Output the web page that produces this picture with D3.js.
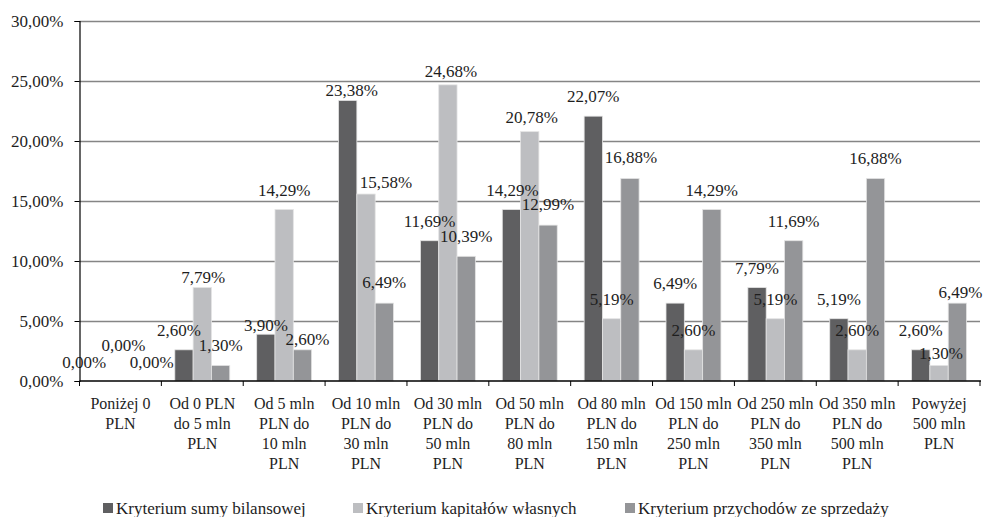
<!DOCTYPE html>
<html>
<head>
<meta charset="utf-8">
<script src="https://cdn.jsdelivr.net/npm/d3@7"></script>
<style>
  html, body { margin: 0; padding: 0; background: #fff; }
  svg { display: block; }
</style>
</head>
<body>
<svg id="chart" width="985" height="517"></svg>
<script>
// Size brackets (category labels, split into lines)
const categories = [
  ["Poniżej 0", "PLN"],
  ["Od 0 PLN", "do 5 mln", "PLN"],
  ["Od 5 mln", "PLN do", "10 mln", "PLN"],
  ["Od 10 mln", "PLN do", "30 mln", "PLN"],
  ["Od 30 mln", "PLN do", "50 mln", "PLN"],
  ["Od 50 mln", "PLN do", "80 mln", "PLN"],
  ["Od 80 mln", "PLN do", "150 mln", "PLN"],
  ["Od 150 mln", "PLN do", "250 mln", "PLN"],
  ["Od 250 mln", "PLN do", "350 mln", "PLN"],
  ["Od 350 mln", "PLN do", "500 mln", "PLN"],
  ["Powyżej", "500 mln", "PLN"]
];

const seriesNames = [
  "Kryterium sumy bilansowej",
  "Kryterium kapitałów własnych",
  "Kryterium przychodów ze sprzedaży"
];

// Share of companies (%) per bracket
const sumaBilansowa   = [0.00, 2.60, 3.90, 23.38, 11.69, 14.29, 22.07, 6.49, 7.79, 5.19, 2.60];
const kapitalyWlasne  = [0.00, 7.79, 14.29, 15.58, 24.68, 20.78, 5.19, 2.60, 5.19, 2.60, 1.30];
const przychody       = [0.00, 1.30, 2.60, 6.49, 10.39, 12.99, 16.88, 14.29, 11.69, 16.88, 6.49];

const yTicks = [0, 5, 10, 15, 20, 25, 30];

const seriesColors = ["#5f5f61", "#bdbec1", "#949598"];

// Hand-placed nudges [dx, dy] for value labels that would collide
const labelNudge = [
  [[-18, 1], [3, -16], [13, 1]],
  [[-5, 0], [1, 9], [0, 0]],
  [[0, 11], [0, 0], [5, 9]],
  [[4, 10], [20, 8], [0, -1]],
  [[0, 0], [3, 6], [0, 0]],
  [[1, 0], [2, 5], [0, -1]],
  [[0, 0], [0, 0], [1, -1]],
  [[0, 0], [0, 0], [0, 0]],
  [[0, 0], [0, 0], [0, 0]],
  [[0, 0], [0, 0], [0, 0]],
  [[0, 0], [2, 8], [3, 9]]
];

const FONT = "'Liberation Serif', 'Times New Roman', 'Noto Serif', 'DejaVu Serif', FreeSerif, serif";
const TEXT_COLOR = "#1e1e1e";

const seriesValues = [sumaBilansowa, kapitalyWlasne, przychody];
const plLocale = d3.formatLocale({ decimal: ",", thousands: " ", grouping: [3], currency: ["", " zł"] });
const fmt = v => plLocale.format(".2f")(v) + "%";

const svg = d3.select("#chart").attr("font-family", FONT);
const plotLeft = 79.5, plotRight = 980, plotTop = 21, plotBottom = 381;

const x0 = d3.scaleBand()
  .domain(d3.range(categories.length))
  .range([plotLeft, plotRight])
  .padding(0);

const x1 = d3.scaleBand()
  .domain(d3.range(seriesNames.length))
  .range([0, x0.bandwidth()])
  .paddingInner(0)
  .paddingOuter(0.735);

const y = d3.scaleLinear().domain([0, 30]).range([plotBottom, plotTop]);

// Gridlines
svg.append("g")
  .selectAll("line")
  .data(yTicks.filter(t => t > 0))
  .join("line")
  .attr("x1", plotLeft)
  .attr("x2", plotRight)
  .attr("y1", d => Math.round(y(d)) + 0.5)
  .attr("y2", d => Math.round(y(d)) + 0.5)
  .attr("stroke", "#858585")
  .attr("stroke-width", 1.3);

// Bars
const groups = svg.append("g")
  .selectAll("g")
  .data(categories.map((c, i) => i))
  .join("g")
  .attr("transform", i => `translate(${x0(i)},0)`);

groups.selectAll("rect")
  .data(i => seriesValues.map((vals, s) => ({ cat: i, s, v: vals[i] })))
  .join("rect")
  .attr("x", d => x1(d.s))
  .attr("width", x1.bandwidth())
  .attr("y", d => y(d.v))
  .attr("height", d => y(0) - y(d.v))
  .attr("fill", d => seriesColors[d.s])
  .attr("stroke", "#e4e4e4")
  .attr("stroke-width", d => d.v > 0 ? 0.8 : 0);

// Value labels
groups.selectAll("text.val")
  .data(i => seriesValues.map((vals, s) => ({ cat: i, s, v: vals[i] })))
  .join("text")
  .attr("class", "val")
  .attr("x", d => x1(d.s) + x1.bandwidth() / 2 + labelNudge[d.cat][d.s][0])
  .attr("y", d => y(d.v) - 14 + labelNudge[d.cat][d.s][1])
  .attr("text-anchor", "middle")
  .attr("font-family", FONT)
  .attr("font-size", 17)
  .attr("fill", TEXT_COLOR)
  .text(d => fmt(d.v));

// Y axis
const yAxis = svg.append("g")
  .attr("transform", `translate(${plotLeft},0)`)
  .call(d3.axisLeft(y).tickValues(yTicks).tickSize(5).tickPadding(11).tickFormat(d => fmt(d)));
yAxis.attr("font-family", FONT).attr("font-size", 17);
yAxis.select(".domain").attr("stroke", "#000").attr("stroke-width", 1.2);
yAxis.selectAll(".tick line").attr("stroke", "#000");
yAxis.selectAll(".tick text")
  .attr("font-family", FONT)
  .attr("fill", TEXT_COLOR);

// X axis with ticks on bracket boundaries
const xAxis = svg.append("g").attr("transform", `translate(0,${plotBottom})`);
xAxis.append("line")
  .attr("x1", plotLeft).attr("x2", plotRight + 1)
  .attr("y1", 0).attr("y2", 0)
  .attr("stroke", "#000").attr("stroke-width", 1.3);
xAxis.selectAll("line.tick")
  .data(d3.range(categories.length + 1))
  .join("line")
  .attr("class", "tick")
  .attr("x1", i => i < categories.length ? x0(i) : plotRight)
  .attr("x2", i => i < categories.length ? x0(i) : plotRight)
  .attr("y1", 0).attr("y2", 5)
  .attr("stroke", "#000");

const catLabels = xAxis.selectAll("text.cat")
  .data(categories)
  .join("text")
  .attr("class", "cat")
  .attr("text-anchor", "middle")
  .attr("transform", (d, i) => `translate(${x0(i) + x0.bandwidth() / 2},28)`)
  .attr("font-family", FONT)
  .attr("font-size", 16)
  .attr("fill", TEXT_COLOR);
catLabels.selectAll("tspan")
  .data(d => d)
  .join("tspan")
  .attr("x", 0)
  .attr("y", (d, j) => j * 20)
  .text(d => d);

// Legend
const legendX = [103, 353, 625];
const legend = svg.append("g")
  .selectAll("g")
  .data(seriesNames)
  .join("g")
  .attr("transform", (d, i) => `translate(${legendX[i]},503)`);
legend.append("rect")
  .attr("width", 10).attr("height", 10)
  .attr("fill", (d, i) => seriesColors[i]);
legend.append("text")
  .attr("x", 13)
  .attr("y", 11)
  .attr("font-family", FONT)
  .attr("font-size", 17)
  .attr("fill", TEXT_COLOR)
  .text(d => d);
</script>
</body>
</html>
